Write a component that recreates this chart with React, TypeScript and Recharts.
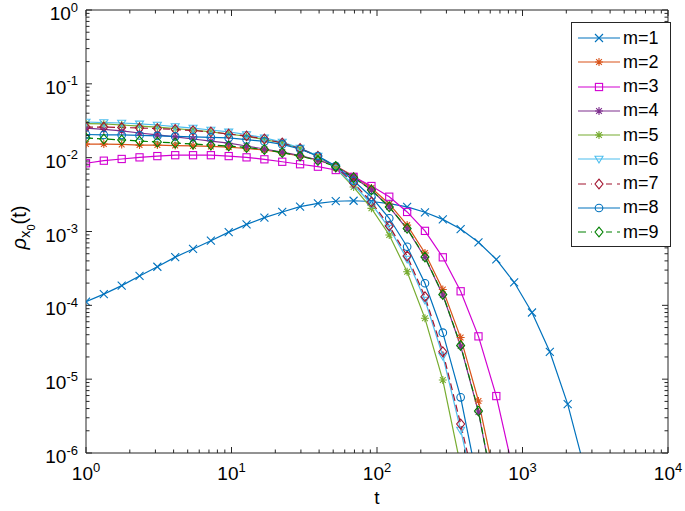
import React from 'react';
import {Legend, Line, LineChart, XAxis, YAxis} from 'recharts';

// time points carrying markers (evenly spaced on the log axis)
const tValues = [1, 1.326, 1.759, 2.333, 3.093, 4.103, 5.441, 7.216, 9.569, 12.69, 16.83, 22.32, 29.6, 39.26, 52.06, 69.05, 91.57, 121.4, 161.1, 213.6, 283.3, 375.7, 498.2, 660.7, 876.2, 1162, 1541, 2044, 2711];

const m1 = [1.12e-4, 1.42e-4, 1.85e-4, 2.5e-4, 3.33e-4, 4.5e-4, 5.8e-4, 7.5e-4, 9.8e-4, 1.25e-3, 1.54e-3, 1.84e-3, 2.17e-3, 2.4e-3, 2.57e-3, 2.61e-3, 2.55e-3, 2.39e-3, 2.15e-3, 1.82e-3, 1.46e-3, 1.08e-3, 7.14e-4, 4.2e-4, 2.05e-4, 8.0e-5, 2.35e-5, 4.6e-6, 5.5e-7];
const m2 = [0.0153, 0.0153, 0.0151, 0.0148, 0.0148, 0.0146, 0.0144, 0.0142, 0.0139, 0.0133, 0.0127, 0.0117, 0.0105, 0.00929, 0.00771, 0.00564, 0.00388, 0.00236, 0.00122, 5.11e-4, 1.64e-4, 3.66e-5, 5.06e-6, 3.68e-7];
const m3 = [0.0084, 0.0091, 0.0096, 0.0101, 0.0105, 0.0108, 0.0108, 0.0108, 0.0105, 0.0101, 0.0095, 0.0088, 0.00815, 0.00755, 0.0068, 0.0055, 0.00413, 0.00296, 0.00184, 0.00102, 4.47e-4, 1.55e-4, 3.8e-5, 5.9e-6, 5.0e-7];
const m4 = [0.0252, 0.0241, 0.023, 0.0216, 0.0203, 0.0191, 0.0179, 0.0168, 0.0157, 0.0144, 0.0131, 0.0119, 0.0107, 0.00929, 0.00771, 0.00547, 0.00365, 0.00215, 0.00108, 4.44e-4, 1.38e-4, 2.81e-5, 3.59e-6, 1.97e-7];
const m5 = [0.029, 0.0286, 0.0277, 0.0268, 0.026, 0.0248, 0.0237, 0.0223, 0.0209, 0.0194, 0.0176, 0.0158, 0.0133, 0.0105, 0.00724, 0.004, 0.00206, 8.96e-4, 2.85e-4, 6.67e-5, 9.73e-6, 6.66e-7];
const m6 = [0.0304, 0.0299, 0.0295, 0.0286, 0.0277, 0.0264, 0.0252, 0.0237, 0.0223, 0.0206, 0.0185, 0.0163, 0.0135, 0.0105, 0.00724, 0.00426, 0.00236, 0.00111, 4.24e-4, 1.18e-4, 2.06e-5, 2.05e-6, 1.8e-7];
const m7 = [0.026, 0.026, 0.0256, 0.0252, 0.0248, 0.0241, 0.0233, 0.0223, 0.0209, 0.0197, 0.0179, 0.0158, 0.0133, 0.0105, 0.00747, 0.00454, 0.00251, 0.00119, 4.66e-4, 1.31e-4, 2.35e-5, 2.47e-6, 2.31e-7];
const m8 = [0.0206, 0.0203, 0.0203, 0.02, 0.0197, 0.0194, 0.0191, 0.0188, 0.0185, 0.0176, 0.0166, 0.0151, 0.0131, 0.0105, 0.00771, 0.00487, 0.00293, 0.00151, 6.22e-4, 1.99e-4, 4.26e-5, 5.68e-6, 3.57e-7];
const m9 = [0.0185, 0.0179, 0.0174, 0.0168, 0.0163, 0.0158, 0.0153, 0.0148, 0.0144, 0.0137, 0.0129, 0.0117, 0.0105, 0.00915, 0.00759, 0.00538, 0.00365, 0.00215, 0.0011, 4.51e-4, 1.4e-4, 2.86e-5, 3.7e-6, 1.97e-7];

const xMajor = [1, 10, 100, 1000, 10000];
const yMajor = [1e-6, 1e-5, 1e-4, 1e-3, 1e-2, 1e-1, 1];

type MarkerKind = 'x' | 'star' | 'square' | 'tri' | 'diamond' | 'circle';
const series: {key: string; name: string; values: number[]; color: string; marker: MarkerKind; dashed?: boolean}[] = [
  {key: 'm1', name: 'm=1', values: m1, color: '#0072bd', marker: 'x'},
  {key: 'm2', name: 'm=2', values: m2, color: '#d95319', marker: 'star'},
  {key: 'm3', name: 'm=3', values: m3, color: '#d200d2', marker: 'square'},
  {key: 'm4', name: 'm=4', values: m4, color: '#7e2f8e', marker: 'star'},
  {key: 'm5', name: 'm=5', values: m5, color: '#77ac30', marker: 'star'},
  {key: 'm6', name: 'm=6', values: m6, color: '#4dbeee', marker: 'tri'},
  {key: 'm7', name: 'm=7', values: m7, color: '#a2142f', marker: 'diamond', dashed: true},
  {key: 'm8', name: 'm=8', values: m8, color: '#0072bd', marker: 'circle'},
  {key: 'm9', name: 'm=9', values: m9, color: '#008000', marker: 'diamond', dashed: true},
];

const rows = tValues.map((t, i) => {
  const row: Record<string, number | null> = {t};
  series.forEach(s => (row[s.key] = s.values[i] ?? null));
  return row;
});

const withMinors = (majors: number[]) => {
  const out: number[] = [];
  majors.forEach((v, i) => {
    out.push(v);
    if (i < majors.length - 1) for (let k = 2; k <= 9; k++) out.push(v * k);
  });
  return out;
};
const xTicks = withMinors(xMajor);
const yTicks = withMinors(yMajor);

const AXIS = '#262626';
const FONT = '"Liberation Sans", Arial, Helvetica, sans-serif';
const isMajor = (v: number) => Math.abs(Math.log10(v) - Math.round(Math.log10(v))) < 1e-6;
const expOf = (v: number) => String(Math.round(Math.log10(v)));

function Marker({kind, cx, cy, color}: {kind: MarkerKind; cx: number; cy: number; color: string}) {
  const r = 4;
  const p = {stroke: color, fill: 'none', strokeWidth: 1.1};
  switch (kind) {
    case 'x':
      return <path d={`M${cx - r},${cy - r}L${cx + r},${cy + r}M${cx - r},${cy + r}L${cx + r},${cy - r}`} {...p} />;
    case 'star': {
      const d = r * 0.72;
      return <path d={`M${cx - r},${cy}L${cx + r},${cy}M${cx},${cy - r}L${cx},${cy + r}M${cx - d},${cy - d}L${cx + d},${cy + d}M${cx - d},${cy + d}L${cx + d},${cy - d}`} {...p} />;
    }
    case 'square':
      return <rect x={cx - 3.6} y={cy - 3.6} width={7.2} height={7.2} {...p} />;
    case 'tri':
      return <path d={`M${cx - r},${cy - r * 0.7}L${cx + r},${cy - r * 0.7}L${cx},${cy + r}Z`} {...p} />;
    case 'diamond':
      return <path d={`M${cx},${cy - r * 1.2}L${cx + r},${cy}L${cx},${cy + r * 1.2}L${cx - r},${cy}Z`} {...p} />;
    default:
      return <circle cx={cx} cy={cy} r={3.8} {...p} />;
  }
}

function BottomTick(props: any) {
  const {x, y, payload} = props;
  const major = isMajor(payload.value);
  return (
    <g>
      <line x1={x} x2={x} y1={y} y2={y - (major ? 6 : 3.5)} stroke={AXIS} />
      {major && (
        <text x={x} y={y + 27} textAnchor="middle" fontSize={19} fontFamily={FONT} fill="#000">
          10<tspan dy={-8.5} fontSize={13}>{expOf(payload.value)}</tspan>
        </text>
      )}
    </g>
  );
}

function TopTick(props: any) {
  const {x, y, payload} = props;
  const major = isMajor(payload.value);
  return <line x1={x} x2={x} y1={y} y2={y + (major ? 6 : 3.5)} stroke={AXIS} />;
}

function LeftTick(props: any) {
  const {x, y, payload} = props;
  const major = isMajor(payload.value);
  return (
    <g>
      <line x1={x} x2={x + (major ? 6 : 3.5)} y1={y} y2={y} stroke={AXIS} />
      {major && (
        <text x={x - 8} y={y + 10} textAnchor="end" fontSize={19} fontFamily={FONT} fill="#000">
          10<tspan dy={-8.5} fontSize={13}>{expOf(payload.value)}</tspan>
        </text>
      )}
    </g>
  );
}

function RightTick(props: any) {
  const {x, y, payload} = props;
  const major = isMajor(payload.value);
  return <line x1={x} x2={x - (major ? 6 : 3.5)} y1={y} y2={y} stroke={AXIS} />;
}

function LegendBox() {
  return (
    <div style={{width: 92, border: `1px solid ${AXIS}`, background: '#fff', padding: '3px 0 2px 6px', fontFamily: FONT, fontSize: 18, boxSizing: 'content-box'}}>
      {series.map(s => (
        <div key={s.key} style={{display: 'flex', alignItems: 'center', height: 24.25}}>
          <svg width={42} height={14} style={{marginRight: 3, flex: 'none'}}>
            <line x1={0} x2={42} y1={7} y2={7} stroke={s.color} strokeWidth={1.2} strokeDasharray={s.dashed ? '8 5' : undefined} />
            <rect x={14} y={0} width={14} height={14} fill="#fff" opacity={s.dashed ? 1 : 0} />
            <Marker kind={s.marker} cx={21} cy={7} color={s.color} />
          </svg>
          <span style={{color: '#000', whiteSpace: 'nowrap'}}>{s.name}</span>
        </div>
      ))}
    </div>
  );
}

function XTitle(props: any) {
  const {viewBox} = props;
  return (
    <text x={viewBox.x + viewBox.width / 2} y={viewBox.y + 51} textAnchor="middle" fontFamily={FONT} fontSize={19} fill="#000">t</text>
  );
}

function YTitle(props: any) {
  const {viewBox} = props;
  const cx = viewBox.x - 59;
  const cy = viewBox.y + viewBox.height / 2 - 4;
  return (
    <text transform={`rotate(-90 ${cx} ${cy})`} x={cx} y={cy} textAnchor="middle" fontFamily={FONT} fontSize={20} fill="#000">
      <tspan fontStyle="italic">ρ</tspan>
      <tspan dy={4} fontSize={15}>x</tspan>
      <tspan dy={5} fontSize={11}>0</tspan>
      <tspan dy={-9}>(t)</tspan>
    </text>
  );
}

export default function App() {
  return (
    <div style={{position: 'absolute', left: 0, top: 0, width: 685, height: 511, background: '#fff'}}>
      <LineChart width={685} height={511} data={rows} margin={{top: 9, right: 16, bottom: 57, left: 85}}>
        <XAxis xAxisId="b" dataKey="t" type="number" scale="log" domain={[1, 10000]} ticks={xTicks} interval={0} tick={<BottomTick />} tickLine={false} tickSize={0} tickMargin={0} height={1} stroke={AXIS} allowDataOverflow
          label={{content: <XTitle />}} />
        <XAxis xAxisId="top" orientation="top" dataKey="t" type="number" scale="log" domain={[1, 10000]} ticks={xTicks} interval={0} tick={<TopTick />} tickLine={false} tickSize={0} tickMargin={0} height={1} stroke={AXIS} allowDataOverflow />
        <YAxis yAxisId="l" type="number" scale="log" domain={[1e-6, 1]} ticks={yTicks} interval={0} tick={<LeftTick />} tickLine={false} tickSize={0} tickMargin={0} width={1} stroke={AXIS} allowDataOverflow label={{content: <YTitle />}} />
        <YAxis yAxisId="r" orientation="right" type="number" scale="log" domain={[1e-6, 1]} ticks={yTicks} interval={0} tick={<RightTick />} tickLine={false} tickSize={0} tickMargin={0} width={1} stroke={AXIS} allowDataOverflow />
        <Legend layout="vertical" align="center" verticalAlign="middle" content={<LegendBox />} wrapperStyle={{left: 571, top: 22, width: 'auto', height: 'auto'}} />
        {series.map(s => (
          <Line key={s.key} xAxisId="b" yAxisId="l" dataKey={s.key} name={s.name} stroke={s.color} strokeWidth={1.2} strokeDasharray={s.dashed ? '7 4' : undefined}
            type="linear" isAnimationActive={false} connectNulls={false}
            dot={(p: any) => (p.cx == null || p.cy == null || p.value == null ? <g key={p.index} /> : <Marker key={p.index} kind={s.marker} cx={p.cx} cy={p.cy} color={s.color} />)}
            activeDot={false} />
        ))}
      </LineChart>
    </div>
  );
}
